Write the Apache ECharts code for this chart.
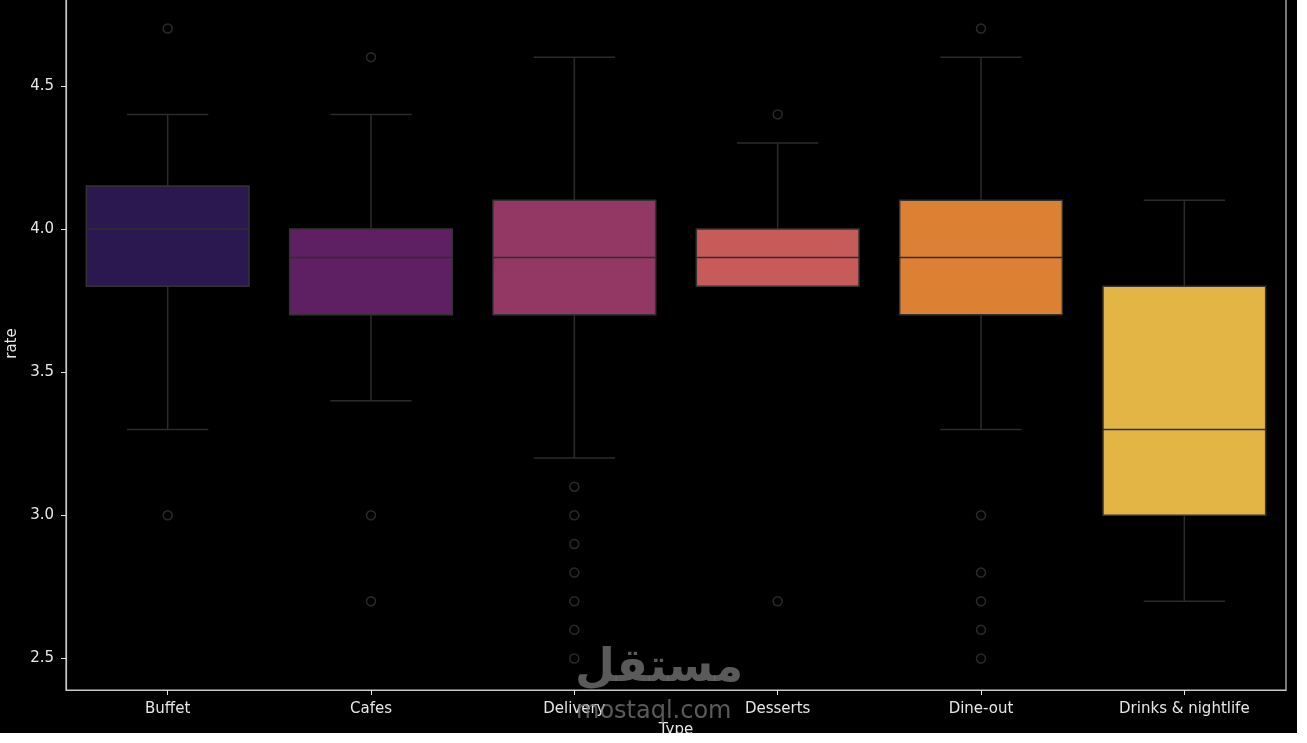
<!DOCTYPE html>
<html>
<head>
<meta charset="utf-8">
<script src="https://cdn.jsdelivr.net/npm/echarts@6/dist/echarts.min.js"></script>
<style>
  html, body { margin: 0; padding: 0; background: #ffffff; }
  #chart { width: 1297px; height: 733px; background: #000000; }
</style>
</head>
<body>
<div id="chart"></div>
<script>
const categories = ['Buffet', 'Cafes', 'Delivery', 'Desserts', 'Dine-out', 'Drinks & nightlife'];
const whiskerLow  = [3.3, 3.4, 3.2, 3.8, 3.3, 2.7];
const q1Values    = [3.8, 3.7, 3.7, 3.8, 3.7, 3.0];
const medianVals  = [4.0, 3.9, 3.9, 3.9, 3.9, 3.3];
const q3Values    = [4.15, 4.0, 4.1, 4.0, 4.1, 3.8];
const whiskerHigh = [4.4, 4.4, 4.6, 4.3, 4.6, 4.1];
const outlierBuffet   = [3.0, 4.7];
const outlierCafes    = [4.6, 3.0, 2.7];
const outlierDelivery = [3.1, 3.0, 2.9, 2.8, 2.7, 2.6, 2.5];
const outlierDesserts = [4.4, 2.7];
const outlierDineOut  = [4.7, 3.0, 2.8, 2.7, 2.6, 2.5];
const outlierDrinks   = [];
const yTickValues = [2.5, 3.0, 3.5, 4.0, 4.5];

const boxColors = ['#2c1850', '#5e2062', '#933864', '#c65b59', '#dc8034', '#e2b545'];
const lineColor = '#2b2b2b';

const outlierLists = [outlierBuffet, outlierCafes, outlierDelivery, outlierDesserts, outlierDineOut, outlierDrinks];
const boxData = categories.map((c, i) => [i, whiskerLow[i], q1Values[i], medianVals[i], q3Values[i], whiskerHigh[i]]);
const outlierData = [];
outlierLists.forEach((list, i) => list.forEach(v => outlierData.push([i, v])));

function renderBox(params, api) {
  const i = api.value(0);
  const band = api.size([1, 0])[0];
  const bw = band * 0.8;
  const cap = bw / 2;
  const pLow = api.coord([i, api.value(1)]);
  const pQ1 = api.coord([i, api.value(2)]);
  const pMed = api.coord([i, api.value(3)]);
  const pQ3 = api.coord([i, api.value(4)]);
  const pHigh = api.coord([i, api.value(5)]);
  const cx = pMed[0];
  const ls = { stroke: lineColor, lineWidth: 1.5 };
  return {
    type: 'group',
    children: [
      { type: 'line', shape: { x1: cx, y1: pQ3[1], x2: cx, y2: pHigh[1] }, style: ls },
      { type: 'line', shape: { x1: cx, y1: pQ1[1], x2: cx, y2: pLow[1] }, style: ls },
      { type: 'line', shape: { x1: cx - cap / 2, y1: pHigh[1], x2: cx + cap / 2, y2: pHigh[1] }, style: ls },
      { type: 'line', shape: { x1: cx - cap / 2, y1: pLow[1], x2: cx + cap / 2, y2: pLow[1] }, style: ls },
      { type: 'rect', shape: { x: cx - bw / 2, y: pQ3[1], width: bw, height: pQ1[1] - pQ3[1] },
        style: { fill: boxColors[i], stroke: '#333333', lineWidth: 1.5 } },
      { type: 'line', shape: { x1: cx - bw / 2, y1: pMed[1], x2: cx + bw / 2, y2: pMed[1] }, style: { stroke: '#2e2e2e', lineWidth: 1.5 } }
    ]
  };
}

const chart = echarts.init(document.getElementById('chart'));
const font = 'DejaVu Sans';
chart.setOption({
  backgroundColor: '#000000',
  animation: false,
  textStyle: { fontFamily: font },
  grid: { left: 66, right: 11, top: -3, bottom: 43, show: true, borderColor: '#c8c8c8', borderWidth: 1.2,
    containLabel: false, outerBoundsMode: 'none' },
  xAxis: {
    type: 'category',
    data: categories,
    boundaryGap: true,
    name: 'Type',
    nameLocation: 'middle',
    nameGap: 33,
    nameTextStyle: { color: '#e6e6e6', fontSize: 15, fontFamily: font },
    axisLine: { show: true, lineStyle: { color: '#c8c8c8', width: 1.2 } },
    axisTick: { show: true, alignWithLabel: true, length: 5, lineStyle: { color: '#e6e6e6' } },
    axisLabel: { color: '#e6e6e6', fontSize: 15, margin: 12, fontFamily: font },
    splitLine: { show: false }
  },
  yAxis: {
    type: 'value',
    min: 2.39,
    max: 4.81,
    name: 'rate',
    nameLocation: 'middle',
    nameGap: 45,
    nameRotate: 90,
    nameTextStyle: { color: '#e6e6e6', fontSize: 15, fontFamily: font },
    axisLine: { show: true, lineStyle: { color: '#c8c8c8', width: 1.2 } },
    axisTick: { show: true, length: 5, customValues: yTickValues, lineStyle: { color: '#e6e6e6' } },
    axisLabel: { color: '#e6e6e6', fontSize: 15, margin: 12, fontFamily: font, customValues: yTickValues,
      formatter: v => v.toFixed(1) },
    splitLine: { show: false }
  },
  series: [
    {
      type: 'custom',
      renderItem: renderBox,
      encode: { x: 0, y: [1, 2, 3, 4, 5] },
      data: boxData,
      z: 2
    },
    {
      type: 'scatter',
      data: outlierData,
      symbol: 'circle',
      symbolSize: 9,
      itemStyle: { color: 'rgba(0,0,0,0)', borderColor: '#333333', borderWidth: 1.5 },
      z: 3
    }
  ],
  graphic: [
    { type: 'text', left: 575, top: 646, z: 100,
      style: { text: 'مستقل', font: 'bold 46px "DejaVu Sans"', fill: 'rgba(120,120,120,0.75)' } },
    { type: 'text', left: 576, top: 700, z: 100,
      style: { text: 'mostaql.com', font: '24px "DejaVu Sans"', fill: 'rgba(120,120,120,0.75)' } }
  ]
});
</script>
</body>
</html>
